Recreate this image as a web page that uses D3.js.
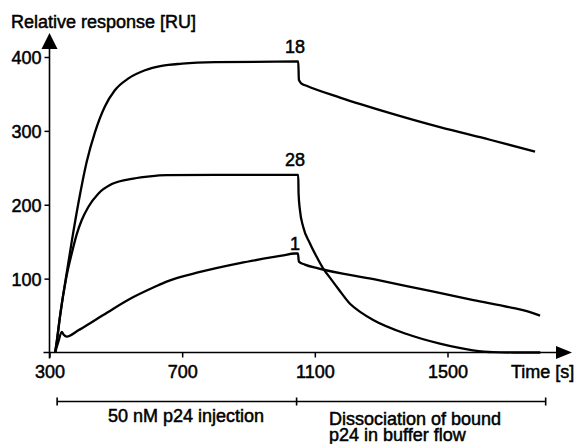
<!DOCTYPE html>
<html>
<head>
<meta charset="utf-8">
<script src="https://cdn.jsdelivr.net/npm/d3@7"></script>
<style>
	body { margin: 0; background: #fff; }
	svg text { font-family: "Liberation Sans", Arial, sans-serif; font-size: 18px; fill: #000; stroke: #000; stroke-width: 0.5px; }
	.curve { fill: none; stroke: #000; stroke-width: 2.3px; stroke-linejoin: round; }
	.axisline { stroke: #000; stroke-width: 1.6px; }
</style>
</head>
<body>
<script>
// time [s] / response [RU]
var curve18 = [[317, 0], [322, 15], [332, 50], [352, 108], [367, 150], [387, 202], [412, 258], [437, 298],
	[467, 333], [497, 355], [538, 371], [588, 382], [638, 388], [700, 391], [800, 393], [1050, 394],
	[1052, 369], [1060, 364], [1075, 361], [1176, 345], [1327, 324], [1477, 305], [1628, 288], [1764, 272]];

var curve28 = [[317, 0], [322, 15], [332, 50], [350, 100], [367, 134], [382, 160], [397, 179], [417, 197],
	[447, 215], [488, 228], [553, 235.5], [603, 238.5], [653, 240], [800, 240.5], [1050, 240.5],
	[1051, 215], [1055, 193], [1065, 170], [1085, 148], [1105, 130], [1125, 114], [1151, 98], [1171, 86],
	[1206, 66], [1240, 54], [1276, 44], [1377, 25], [1477, 12], [1577, 3], [1637, 0.5], [1700, 0], [1780, 0]];

var curve1 = [[317, 0], [327, 15], [337, 28], [343, 24], [352, 21.5], [387, 30], [420, 39], [452, 48],
	[488, 58], [553, 75], [618, 89], [653, 96], [754, 109], [874, 121], [1000, 131], [1040, 134], [1049, 134],
	[1052, 123], [1070, 119], [1110, 114], [1281, 99], [1377, 90], [1578, 71], [1700, 60], [1739, 56], [1779, 50]];

var curveLabels = ['18', '28', '1'];
var labelTimes = [1040, 1040, 1040];
var labelValues = [405, 253, 139];

var xTicks = [300, 700, 1100, 1500];
var yTicks = [100, 200, 300, 400];

var phaseBounds = [323, 1045, 1796]; // injection start, buffer start, end

var width = 575, height = 444;

var x = d3.scaleLinear().domain([300, 1500]).range([49.5, 447.5]);
var y = d3.scaleLinear().domain([0, 400]).range([352.5, 57]);

var svg = d3.select('body').append('svg')
	.attr('width', width)
	.attr('height', height);

// axes with arrow heads
var x0 = x(300), y0 = y(0);
svg.append('line').attr('class', 'axisline')
	.attr('x1', x0 - 6).attr('x2', 558).attr('y1', y0).attr('y2', y0);
svg.append('path').attr('d', 'M556,' + (y0 - 6.5) + 'L572,' + y0 + 'L556,' + (y0 + 6.5) + 'Z');
svg.append('line').attr('class', 'axisline')
	.attr('x1', x0).attr('x2', x0).attr('y1', y0 + 6).attr('y2', 47);
svg.append('path').attr('d', 'M' + (x0 - 8) + ',49L' + x0 + ',33L' + (x0 + 8) + ',49Z');

var xAxis = d3.axisBottom(x).tickValues(xTicks).tickSize(5).tickPadding(8).tickFormat(d3.format('d'));
var yAxis = d3.axisLeft(y).tickValues(yTicks).tickSize(5).tickPadding(3).tickFormat(d3.format('d'));

var gx = svg.append('g').attr('transform', 'translate(0,' + y0 + ')').call(xAxis);
var gy = svg.append('g').attr('transform', 'translate(' + x0 + ',0)').call(yAxis);
[gx, gy].forEach(function (g) {
	g.attr('font-size', null).attr('font-family', null);
	g.select('.domain').remove();
	g.selectAll('.tick line').attr('stroke', '#000').attr('stroke-width', 1.5);
});
gy.selectAll('.tick text').attr('dy', '0.36em');

svg.append('text').attr('x', 11).attr('y', 28).text('Relative response [RU]');
svg.append('text').attr('x', 511).attr('y', 378).text('Time [s]');

// sensorgram curves
var line = d3.line()
	.x(function (d) { return x(d[0]); })
	.y(function (d) { return y(d[1]); })
	.curve(d3.curveMonotoneX);

svg.selectAll('.curve')
	.data([curve18, curve28, curve1])
	.enter().append('path')
	.attr('class', 'curve')
	.attr('d', line);

svg.selectAll('.clabel')
	.data(curveLabels)
	.enter().append('text')
	.attr('class', 'clabel')
	.attr('text-anchor', 'middle')
	.attr('x', function (d, i) { return x(labelTimes[i]); })
	.attr('y', function (d, i) { return y(labelValues[i]); })
	.text(function (d) { return d; });

// phase bracket under the time axis
var by = 401.5;
svg.append('line').attr('class', 'axisline').attr('stroke-width', 1.2)
	.attr('x1', x(phaseBounds[0])).attr('x2', x(phaseBounds[2])).attr('y1', by).attr('y2', by);
svg.selectAll('.btick')
	.data(phaseBounds)
	.enter().append('line')
	.attr('class', 'btick axisline')
	.attr('stroke-width', 1.2)
	.attr('x1', function (d) { return x(d); })
	.attr('x2', function (d) { return x(d); })
	.attr('y1', by - 4).attr('y2', by + 4);

svg.append('text').attr('x', 186).attr('y', 421.5).attr('text-anchor', 'middle').text('50 nM p24 injection');
svg.append('text').attr('x', 329).attr('y', 425).text('Dissociation of bound');
svg.append('text').attr('x', 329).attr('y', 440.5).text('p24 in buffer flow');
</script>
</body>
</html>
